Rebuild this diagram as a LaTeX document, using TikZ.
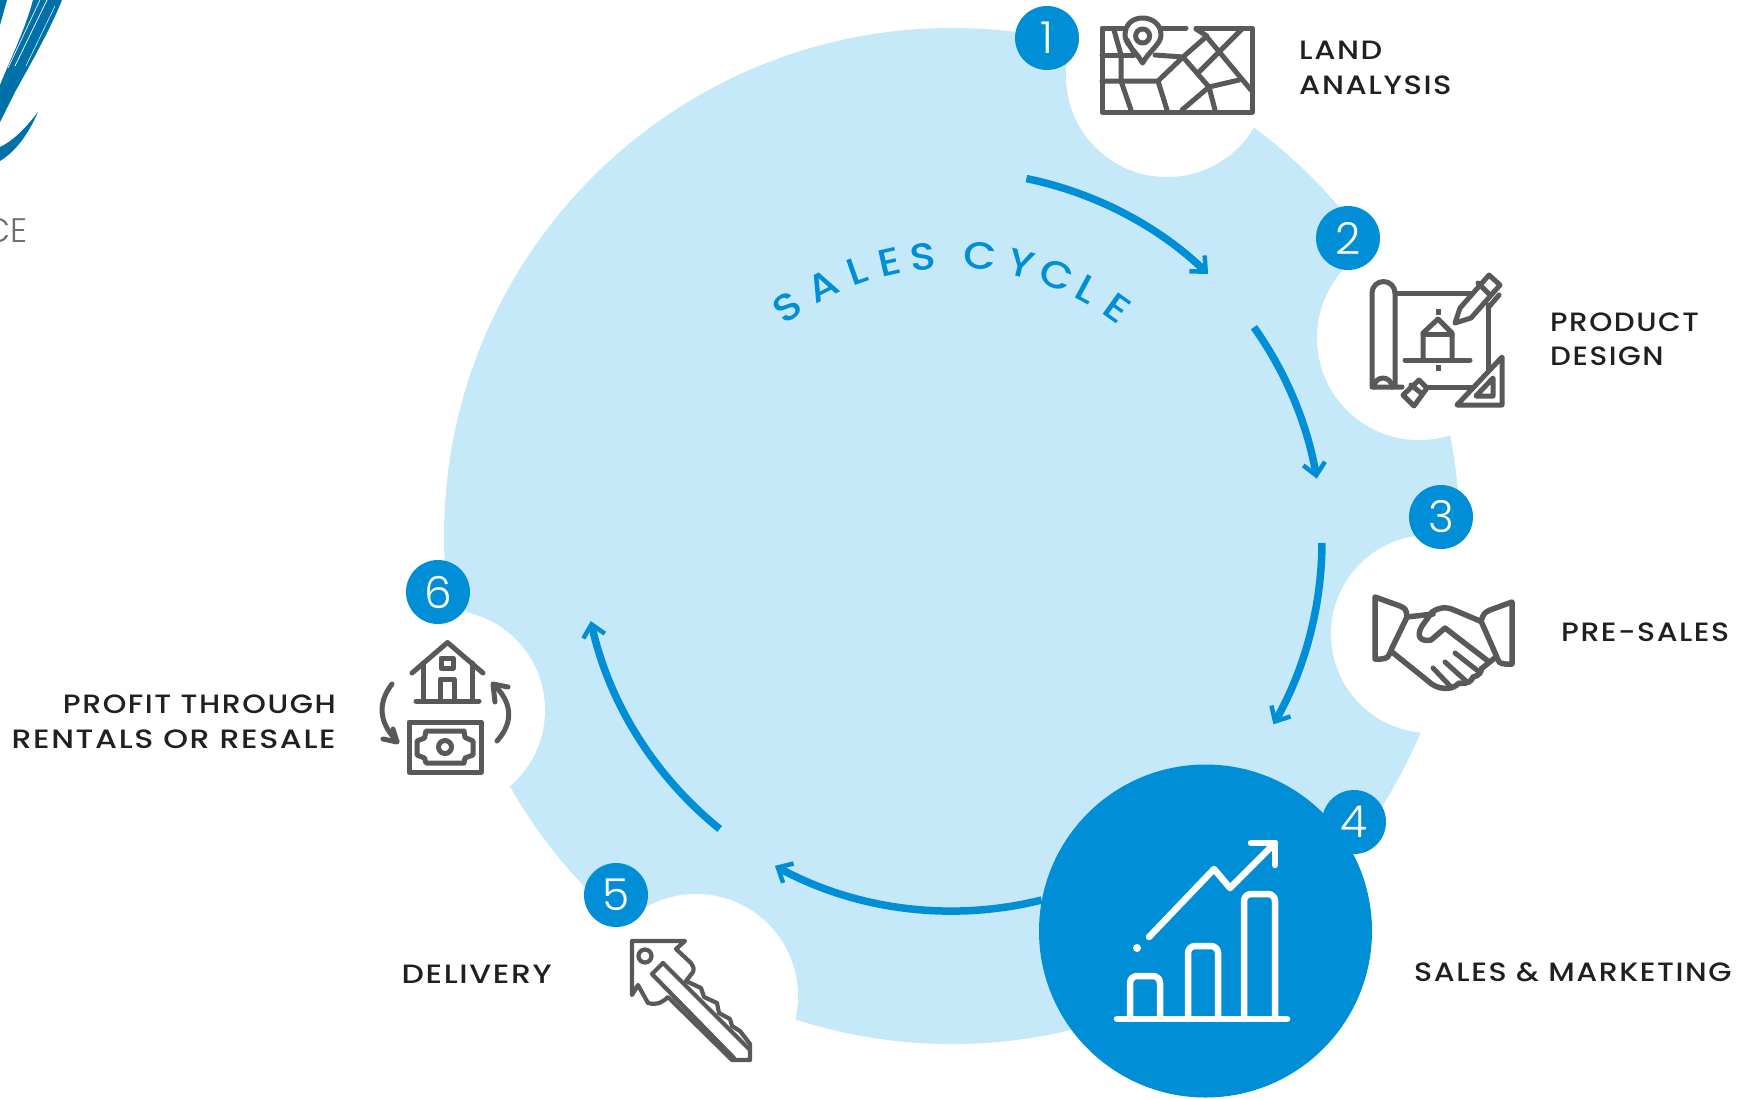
\documentclass[tikz,border=0pt]{standalone}
\usepackage{fontspec}
\setmainfont{Poppins}
\newfontfamily\labelfont[LetterSpace=6,FakeStretch=1.15]{Poppins Medium}
\newfontfamily\cyclefont[FakeStretch=1.12]{Poppins Medium}
\newfontfamily\numfont{Poppins Light}
\usetikzlibrary{arrows.meta,calc}
\definecolor{paleblue}{HTML}{C6E9F9}
\definecolor{mainblue}{HTML}{008FD7}
\definecolor{icongray}{HTML}{58595B}
\definecolor{inktext}{HTML}{231F20}
\definecolor{brushblue}{HTML}{0071A8}
\definecolor{logogray}{HTML}{6D6E71}
\tikzset{
  x=1pt,y=-1pt,
  whitedisc/.style={circle,fill=white,inner sep=0pt,minimum size=#1},
  badge/.style={circle,fill=mainblue,text=white,inner sep=0pt,minimum size=64pt,font=\numfont\fontsize{44}{44}\selectfont},
  cyc/.style={arrowline,-{Straight Barb[length=12pt,width=22pt,line width=4.5pt]}},
  arrowline/.style={draw=mainblue,line width=7.5pt},
  icon/.style={draw=icongray,line width=5pt,line join=round,line cap=round},
  chart/.style={draw=white,line width=6.5pt,line join=round,line cap=round},
  lab/.style={text=inktext,inner sep=0pt,font=\labelfont\fontsize{26.5}{34.5}\selectfont},
  arcletter/.style={text=mainblue,inner sep=0pt,font=\cyclefont\fontsize{38}{38}\selectfont},
}
\begin{document}
\begin{tikzpicture}
\useasboundingbox (0,0) rectangle (1750,1098);
% logo fragment
\fill[brushblue] (62,0) .. controls (50,30) and (30,65) .. (15,92) -- (0,122) -- (0,85) .. controls (10,60) and (25,30) .. (33,0) -- cycle;
\fill[brushblue] (38,112) .. controls (28,135) and (15,152) .. (0,161) -- (0,147) .. controls (15,140) and (28,125) .. (38,112) -- cycle;
\fill[brushblue] (0,0) -- (7,0) -- (0,25) -- cycle;
\draw[white,line width=.7pt] (47,0) -- (15,66);
\draw[white,line width=.6pt] (40,0) -- (8,68);
\draw[white,line width=.5pt] (55,6) -- (26,66);
\node[anchor=base east,inner sep=0pt,text=logogray,font=\fontspec{Poppins Light}\fontsize{34}{34}\selectfont] (logotext) at (28,242) {CE};
% background
\coordinate (hub) at (952,536);
\node[circle,fill=paleblue,inner sep=0pt,minimum size=1016pt] (bigdisc) at (hub) {};
\node[whitedisc=202pt] (w1) at (1167,76) {};
\node[whitedisc=204pt] (w2) at (1419,338) {};
\node[whitedisc=198pt] (w3) at (1430,634) {};
\node[whitedisc=204pt] (w5) at (696,996) {};
\node[whitedisc=200pt] (w6) at (445,710) {};
% cycle arrows
\coordinate (ac) at (952,541);
\path (ac) ++(78.4:370pt) coordinate (a1);
\path (ac) ++(35.3:370pt) coordinate (a2);
\path (ac) ++(-0.3:370pt) coordinate (a3);
\path (ac) ++(-76:370pt) coordinate (a4);
\path (ac) ++(-128.9:370pt) coordinate (a5);
\draw[cyc] (a1) arc[start angle=78.4,end angle=46.2,radius=370pt];
\draw[cyc] (a2) arc[start angle=35.3,end angle=9.7,radius=370pt];
\draw[cyc] (a3) arc[start angle=-0.3,end angle=-29.7,radius=370pt];
\draw[cyc] (a4) arc[start angle=-76,end angle=-118.6,radius=370pt];
\draw[cyc] (a5) arc[start angle=-128.9,end angle=-167.5,radius=370pt];
% curved title
\coordinate (tc) at (952,540);
\path (tc) ++(125.3:285pt) node[arcletter,rotate=35.3] (t1) {S};
\path (tc) ++(116.9:285pt) node[arcletter,rotate=26.9] (t2) {A};
\path (tc) ++(109.4:285pt) node[arcletter,rotate=19.4] (t3) {L};
\path (tc) ++(102.6:285pt) node[arcletter,rotate=12.6] (t4) {E};
\path (tc) ++(95.9:285pt) node[arcletter,rotate=5.9] (t5) {S};
\path (tc) ++(84.3:285pt) node[arcletter,rotate=-5.7] (t6) {C};
\path (tc) ++(76:285pt) node[arcletter,rotate=-14] (t7) {Y};
\path (tc) ++(68.5:285pt) node[arcletter,rotate=-21.5] (t8) {C};
\path (tc) ++(61.8:285pt) node[arcletter,rotate=-28.2] (t9) {L};
\path (tc) ++(54.5:285pt) node[arcletter,rotate=-35.5] (t10) {E};
% sales disc
\node[circle,fill=mainblue,inner sep=0pt,minimum size=333pt] (salesdisc) at (1205.5,931) {};
% badges
\node[badge] (b1) at (1047,38) {1};
\node[badge] (b2) at (1348,238) {2};
\node[badge] (b3) at (1441,517) {3};
\node[badge] (b4) at (1354,822) {4};
\node[badge] (b5) at (616,895) {5};
\node[badge] (b6) at (438,592) {6};
% labels
\node[lab,anchor=west,align=left] (l1) at (1299,68) {LAND\\ANALYSIS};
\node[lab,anchor=west,align=left,xscale=.965] (l2) at (1550,339.5) {PRODUCT\\DESIGN};
\node[lab,anchor=west,xscale=.98] (l3) at (1561,632) {PRE-SALES};
\node[lab,anchor=west,xscale=.985] (l4) at (1414,972) {SALES \& MARKETING};
\node[lab,anchor=east,xscale=1.035] (l5) at (552,974) {DELIVERY};
\node[lab,anchor=east,xscale=.985] (l6a) at (336,704) {PROFIT THROUGH};
\node[lab,anchor=east,xscale=1.035] (l6b) at (336,739) {RENTALS OR RESALE};
% map icon
\draw[icon] (1186,28) -- (1162,28);
\draw[icon] (1196,28) -- (1252,28) -- (1252,112) -- (1102,112) -- (1102,28) -- (1128,28);
\draw[icon,fill=white] (1142.6,63) .. controls (1135,50) and (1125,44) .. (1125,35) .. controls (1125,24) and (1133,18) .. (1142.6,18) .. controls (1152,18) and (1161,24) .. (1161,35) .. controls (1161,44) and (1150,50) .. (1142.6,63) -- cycle;
\draw[icon] (1142.6,36) circle[radius=7pt];
\draw[icon] (1114,30) -- (1121,55) -- (1121,81) -- (1131,110);
\draw[icon] (1127,40) -- (1134,53);
\draw[icon] (1102,55) -- (1134,55);
\draw[icon] (1102,81) -- (1158,81) -- (1167,110);
\draw[icon] (1158,81) -- (1183,57);
\draw[icon] (1155,55) -- (1183,57) -- (1207,36) -- (1196,29);
\draw[icon] (1183,57) -- (1209,87) -- (1182,110);
\draw[icon] (1209,87) -- (1215,110);
\draw[icon] (1209,87) -- (1239,80);
\draw[icon] (1206,36) -- (1251,90);
\draw[icon] (1198,73) -- (1242,29);
% blueprint icon
\draw[icon] (1395,387) -- (1395,293) arc[start angle=0,end angle=180,radius=11.5pt] -- (1372,387) -- (1402,387);
\draw[icon] (1374,387) arc[start angle=180,end angle=0,radius=9pt];
\draw[icon] (1395,293) -- (1478,293);
\draw[icon] (1488,305) -- (1488,370);
\draw[icon] (1427,387) -- (1474,387);
\draw[icon,fill=white] (1455,323) -- (1460,308) -- (1489,275) -- (1500,285) -- (1471,318) -- cycle;
\draw[icon] (1478,283) -- (1490,295);
\draw[icon] (1499,295) -- (1488,308);
\draw[icon] (1405,360) -- (1470,360);
\draw[icon] (1423,360) -- (1423,333) -- (1438,319) -- (1452,333) -- (1452,360);
\draw[icon] (1423,334) -- (1452,334);
\fill[icongray] (1435.5,309) rectangle (1440.5,315);
\fill[icongray] (1435.5,365) rectangle (1440.5,371);
\draw[icon,fill=white] (1419,380) -- (1427,388) -- (1414,406) -- (1403,395) -- cycle;
\draw[icon] (1411,385) -- (1421,393);
\draw[icon,fill=white] (1502,357) -- (1502,405) -- (1457,405) -- cycle;
\draw[icon] (1493,378) -- (1493,396) -- (1476,396) -- cycle;
% handshake icon
\draw[icon,line width=5.5pt] (1375,597) -- (1400,606) .. controls (1406,609) .. (1407,617) -- (1392,648) .. controls (1388,658) .. (1381,659) -- (1375,659) -- cycle;
\draw[icon,line width=5.5pt] (1512,602) -- (1490,610) .. controls (1484,613) .. (1481,621) -- (1496,655) .. controls (1499,663) .. (1505,664) -- (1512,664) -- cycle;
\draw[icon,line width=5.5pt] (1407,617) -- (1433,614);
\draw[icon,line width=5.5pt] (1480,621) -- (1454,610) .. controls (1445,606) and (1438,608) .. (1432,612) -- (1422,626) .. controls (1416,636) and (1420,642) .. (1431,640) -- (1445,628) -- (1488,661);
\draw[icon,line width=5.5pt] (1392,652) -- (1428,681) .. controls (1437,690) and (1452,691) .. (1459,683) .. controls (1466,685) and (1472,681) .. (1473,677) .. controls (1479,676) and (1482,671) .. (1481,669) -- (1496,657);
\draw[icon,line width=5pt] (1433,668) -- (1452,688);
\draw[icon,line width=5pt] (1445,662) -- (1466,681);
\draw[icon,line width=5pt] (1455,653) -- (1478,671);
% chart icon
\draw[chart] (1117,1019) -- (1287,1019);
\draw[chart,rounded corners=7pt] (1130,1019) -- (1130,976) -- (1160,976) -- (1160,1019);
\draw[chart,rounded corners=7pt] (1188,1019) -- (1188,946) -- (1218,946) -- (1218,1019);
\draw[chart,rounded corners=7pt] (1244,1019) -- (1244,894) -- (1275,894) -- (1275,1019);
\draw[chart] (1149,937) -- (1214,869) -- (1230,888) -- (1275,843);
\draw[chart] (1251,843) -- (1275,843) -- (1275,865);
\fill[white] (1137,948) circle[radius=4pt];
% house and money icon
\draw[icon] (412,673) -- (447.5,642.5) -- (483,673);
\draw[icon] (423.5,663) -- (423.5,701);
\draw[icon] (472,663) -- (472,701);
\draw[icon] (416,701) -- (479,701);
\draw[icon] (440,701) -- (440,679) -- (454,679) -- (454,701);
\draw[icon] (441,658) rectangle (453,668);
\draw[icon] (409,722) rectangle (481,772);
\draw[icon,line cap=butt] (409,772) -- (481,772);
\draw[icon] (426,731) -- (464,731) -- (465,737.5) -- (473,741) -- (473,755) -- (465,758) -- (464,763) -- (426,763) -- (424.5,758) -- (417,755) -- (417,741) -- (424.5,738) -- cycle;
\draw[icon] (445,747) circle[radius=6.5pt];
\draw[icon] (392,684) .. controls (378,702) and (378,722) .. (397,741);
\draw[icon] (383,739) -- (397,742) -- (393,729);
\draw[icon] (497,741) .. controls (514,722) and (512,702) .. (494,685);
\draw[icon] (508,687) -- (493,684) -- (495,702);
% key icon
\draw[icon,line width=4.2pt] (632,995) -- (632,941) -- (685,941) -- (676,949) -- (691,963) .. controls (694,968) .. (693,972) -- (686,981) -- (701,988) -- (704,997) -- (717,1003) -- (719,1013) -- (730,1019) -- (732,1026) -- (740,1031) -- (750,1044) -- (750,1060) -- (732,1060) -- (668,997) .. controls (661,1004) and (654,1005) .. (648,1003) -- (638,985) -- cycle;
\draw[icon,line width=4.2pt] (663,963) -- (652,974) -- (734,1058);
\draw[icon,line width=4.2pt] (663,963) -- (749,1049);
\draw[icon,line width=4.2pt] (645,956) circle[radius=6.5pt];
\end{tikzpicture}
\end{document}
